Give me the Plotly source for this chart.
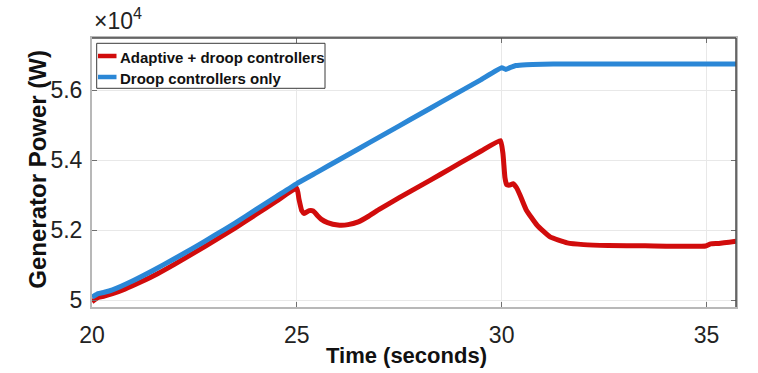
import plotly.graph_objects as go

# ---- data -------------------------------------------------------------
# Adaptive + droop controllers (generator power, W)
t_adaptive = [20.0, 20.15, 20.3, 20.5, 20.8, 21.2, 21.6, 22.0, 22.5, 23.0, 23.5, 24.0,
              24.5, 25.0, 25.05, 25.12, 25.18, 25.3, 25.4, 25.5, 25.6, 25.75, 26.0,
              26.25, 26.5, 26.75, 27.0, 27.5, 28.0, 28.5, 29.0, 29.5, 29.97, 30.03,
              30.08, 30.12, 30.2, 30.28, 30.36, 30.45, 30.6, 30.86, 31.18, 31.6, 32.0,
              32.6, 33.5, 34.98, 35.1, 35.3, 35.72]
p_adaptive = [49960, 50080, 50120, 50190, 50320, 50530, 50760, 51020, 51360, 51710,
              52070, 52450, 52830, 53200, 52900, 52560, 52480, 52560, 52550, 52420,
              52310, 52220, 52150, 52160, 52240, 52400, 52590, 52930, 53260, 53590,
              53930, 54260, 54560, 54200, 53500, 53300, 53290, 53330, 53220, 53000,
              52580, 52150, 51810, 51640, 51590, 51565, 51555, 51550, 51610, 51625,
              51690]

# Droop controllers only (generator power, W)
t_droop = [20.0, 20.15, 20.3, 20.5, 21.0, 21.5, 22.0, 22.5, 23.0, 23.5, 24.0, 24.5,
           25.0, 25.5, 26.0, 26.5, 27.0, 27.5, 28.0, 28.5, 29.0, 29.5, 30.0, 30.1,
           30.2, 30.35, 30.6, 31.0, 31.5, 35.72]
p_droop = [50090, 50190, 50230, 50300, 50560, 50860, 51180, 51510, 51860, 52210,
           52590, 52960, 53333, 53660, 53990, 54320, 54650, 54980, 55310, 55640,
           55970, 56300, 56640, 56590, 56640, 56700, 56725, 56738, 56742, 56742]

series_names = ["Adaptive + droop controllers", "Droop controllers only"]
series_colors = ["#d10c0c", "#2b87d6"]

x_ticks = [20, 25, 30, 35]
y_ticks = [50000, 52000, 54000, 56000]
y_tick_text = ["5", "5.2", "5.4", "5.6"]

x_title = "Time (seconds)"
y_title = "Generator Power (W)"
y_exponent = "\u00d710<sup>4</sup>"

# ---- layout geometry (pixels) ----------------------------------------
W, H = 758, 373
ML, MR, MT, MB = 92, 22, 38, 66
PW, PH = W - ML - MR, H - MT - MB
FONT = "Liberation Sans, Arial, Helvetica, sans-serif"


def px(xp):
    return (xp - ML) / PW


def py(yp):
    return (H - MB - yp) / PH


fig = go.Figure()
for t, p, name, color in [(t_adaptive, p_adaptive, series_names[0], series_colors[0]),
                          (t_droop, p_droop, series_names[1], series_colors[1])]:
    fig.add_trace(go.Scatter(x=t, y=p, mode="lines", name=name,
                             line=dict(color=color, width=5, shape="spline",
                                       smoothing=0.4),
                             showlegend=False, hoverinfo="skip"))

axis_common = dict(
    showgrid=True, gridcolor="#e8e8e8", gridwidth=1,
    ticks="inside", ticklen=5, tickcolor="#707070", tickwidth=1,
    showline=True, linecolor="#b8b8b8", linewidth=2, mirror="ticks",
    zeroline=False,
    tickfont=dict(family=FONT, size=23, color="#222222"),
)

fig.update_xaxes(range=[20, 35.72], tickvals=x_ticks,
                 ticktext=[str(v) for v in x_ticks],
                 ticklabelstandoff=6, **axis_common)
fig.update_yaxes(range=[49810, 57486], tickvals=y_ticks, ticktext=y_tick_text,
                 ticklabelstandoff=3, **axis_common)

shapes = [
    # dark top and right borders of the axes box
    dict(type="line", xref="paper", yref="paper", x0=0, x1=1, y0=1, y1=1,
         line=dict(color="#4a4a4a", width=1.5)),
    dict(type="line", xref="paper", yref="paper", x0=1, x1=1, y0=0, y1=1,
         line=dict(color="#4a4a4a", width=1.5)),
    # legend box
    dict(type="rect", xref="paper", yref="paper",
         x0=px(96.7), x1=px(325), y0=py(88.3), y1=py(43.3),
         fillcolor="white", line=dict(color="#3a3a3a", width=1)),
]
annotations = []
legend_rows = [56.0, 77.0]
for name, color, yrow in zip(series_names, series_colors, legend_rows):
    shapes.append(dict(type="line", xref="paper", yref="paper",
                       x0=px(98), x1=px(116.5), y0=py(yrow), y1=py(yrow),
                       line=dict(color=color, width=4.5)))
    annotations.append(dict(text="<b>%s</b>" % name, xref="paper", yref="paper",
                            x=px(117.5), y=py(yrow + 1), xanchor="left",
                            yanchor="middle", showarrow=False,
                            font=dict(family=FONT, size=15, color="#111111")))

annotations += [
    dict(text="<b>%s</b>" % x_title, xref="paper", yref="paper",
         x=px(406.5), y=py(355), xanchor="center", yanchor="middle",
         showarrow=False, font=dict(family=FONT, size=22, color="#111111")),
    dict(text="<b>%s</b>" % y_title, xref="paper", yref="paper",
         x=px(36.7), y=py(169), xanchor="center", yanchor="middle",
         textangle=-90, showarrow=False,
         font=dict(family=FONT, size=24, color="#111111")),
    dict(text=y_exponent, xref="paper", yref="paper",
         x=px(92), y=py(36), xanchor="left", yanchor="bottom",
         showarrow=False, font=dict(family=FONT, size=23, color="#222222")),
]

fig.update_layout(
    width=W, height=H,
    margin=dict(l=ML, r=MR, t=MT, b=MB, pad=0),
    paper_bgcolor="white", plot_bgcolor="white",
    showlegend=False,
    shapes=shapes, annotations=annotations,
    font=dict(family=FONT),
)

fig.write_html("out.html")
